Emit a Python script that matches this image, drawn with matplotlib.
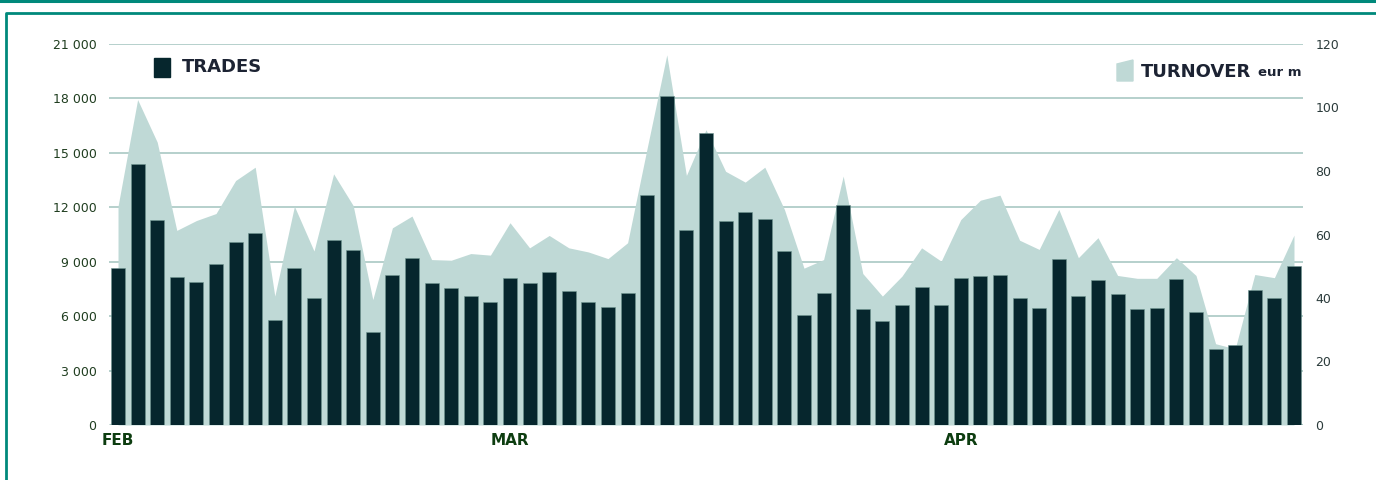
import matplotlib.pyplot as plt
from matplotlib.patches import Rectangle, Polygon
from matplotlib.lines import Line2D
from matplotlib.transforms import blended_transform_factory

# daily number of trades (left axis)
trades = [8660, 14410, 11290, 8170, 7890, 8850, 10080, 10570, 5800, 8650,
          6990, 10190, 9640, 5120, 8280, 9220, 7820, 7545, 7120, 6790,
          8110, 7820, 8440, 7380, 6760, 6500, 7270, 12690, 18160, 10760,
          16100, 11220, 11750, 11380, 9600, 6060, 7290, 12130, 6370, 5710,
          6590, 7620, 6610, 8080, 8190, 8260, 7010, 6460, 9160, 7090,
          7970, 7230, 6370, 6440, 8040, 6240, 4200, 4420, 7450, 6980,
          8740]

# daily turnover, eur m (right axis)
turnover = [68.9, 102.5, 89.1, 61.3, 64.4, 66.6, 77.0, 81.2, 40.6, 68.9,
            54.8, 79.1, 69.1, 39.5, 62.1, 65.8, 52.1, 51.9, 54.0, 53.5,
            63.7, 55.8, 59.7, 55.8, 54.5, 52.4, 57.4, 87.3, 116.6, 78.6,
            93.0, 79.9, 76.5, 81.2, 67.9, 49.4, 52.1, 78.4, 47.7, 40.6,
            46.9, 55.8, 51.6, 64.7, 70.8, 72.4, 58.2, 55.3, 67.9, 52.7,
            59.0, 47.1, 46.2, 46.2, 52.7, 47.1, 25.6, 24.0, 47.4, 46.4,
            59.8]

month_pos = [0, 20, 43]
month_labels = ['FEB', 'MAR', 'APR']

left_ticks = [0, 3000, 6000, 9000, 12000, 15000, 18000, 21000]
right_ticks = [0, 20, 40, 60, 80, 100, 120]

BAR = '#06262d'
AREA = '#bfd9d6'
GRID = '#a9c8c3'
TEAL = '#00897b'

fig = plt.figure(figsize=(13.76, 4.8), dpi=100)
ax = fig.add_axes([109 / 1376, 1 - 425 / 480, (1303 - 109) / 1376, (425 - 44) / 480])
ax2 = ax.twinx()
ax.set_zorder(2)
ax.patch.set_visible(False)

x = list(range(len(trades)))

# turnover area (behind bars)
ax2.fill_between(x, 0, turnover, color=AREA, linewidth=0, zorder=2)
ax2.set_ylim(0, 120)

# trades bars
ax.bar(x, trades, width=0.72, color=BAR, edgecolor='#6f9591', linewidth=0.4, zorder=3)
ax.set_ylim(0, 21000)
ax.set_xlim(-0.46, len(trades) - 0.54)

# gridlines from left scale, drawn under the area
tr = blended_transform_factory(ax2.transAxes, ax.transData)
for v in left_ticks:
    ax2.plot([0, 1], [v, v], transform=tr, color=GRID, lw=1.2 if v else 2.2,
             zorder=1, solid_capstyle='butt')

for a in (ax, ax2):
    for s in a.spines.values():
        s.set_visible(False)

ax.set_yticks(left_ticks)
ax.set_yticklabels([f'{v:,}'.replace(',', ' ') for v in left_ticks])
ax.tick_params(axis='y', length=0, pad=9, labelsize=9, labelcolor='#1f3d1f')
ax2.set_yticks(right_ticks)
ax2.tick_params(axis='y', length=0, pad=9, labelsize=9, labelcolor='#2b3b3b')

ax.set_xticks(month_pos)
ax.set_xticklabels(month_labels, fontweight='bold', fontsize=11, color='#0d3d10')
ax.tick_params(axis='x', length=0, pad=6)
ax2.tick_params(axis='x', length=0)

# legends
fig.add_artist(Rectangle((154 / 1376, 1 - 77 / 480), 16 / 1376, 19 / 480,
                         transform=fig.transFigure, color=BAR))
fig.text(182 / 1376, 1 - 67 / 480, 'TRADES', fontsize=13, fontweight='bold',
         color='#1c2333', va='center')
fig.add_artist(Polygon([(1117 / 1376, 1 - 64 / 480), (1133 / 1376, 1 - 60 / 480),
                        (1133 / 1376, 1 - 81 / 480), (1117 / 1376, 1 - 81 / 480)],
                       closed=True, transform=fig.transFigure, color=AREA))
fig.text(1141 / 1376, 1 - 72 / 480, 'TURNOVER', fontsize=13, fontweight='bold',
         color='#1c2333', va='center')
fig.text(1258 / 1376, 1 - 73 / 480, 'eur m', fontsize=9.5, fontweight='bold',
         color='#1c2333', va='center')

# frame lines
fig.add_artist(Line2D([0, 1], [1 - 1 / 480, 1 - 1 / 480], transform=fig.transFigure,
                      color=TEAL, lw=2.2))
fig.add_artist(Line2D([6 / 1376, 6 / 1376, 1], [0, 1 - 12.5 / 480, 1 - 12.5 / 480],
                      transform=fig.transFigure, color=TEAL, lw=2))

fig.savefig('out.png', dpi=100)
